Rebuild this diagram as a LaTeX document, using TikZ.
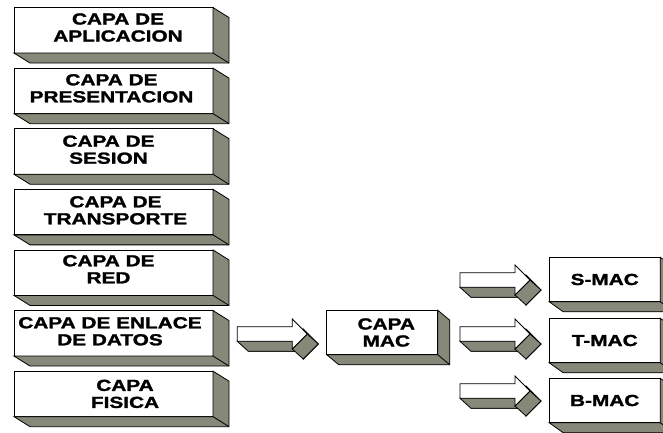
\documentclass[tikz,border=0pt]{standalone}
\usepackage{fontspec}
\newfontfamily\lblfont{Liberation Sans}[FakeStretch=1.3, FakeBold=1.6]
\definecolor{sidegray}{RGB}{134,136,122}
\newcommand\extrude[3]{%
  \filldraw[side] (#1.north east) -- ([shift={(#2,#3)}]#1.north east)
     -- ([shift={(#2,#3)}]#1.south east) -- ([shift={(#2,#3)}]#1.south west)
     -- (#1.south west) -- (#1.south east) -- cycle;
  \draw[edge] (#1.south east) -- ([shift={(#2,#3)}]#1.south east);}
\begin{document}
\begin{tikzpicture}[x=1pt,y=-1pt,
  edge/.style={draw=black, line width=0.8pt, line join=miter},
  face/.style={edge, fill=white},
  side/.style={edge, fill=sidegray},
  layer/.style={face, minimum width=199pt, minimum height=45.5pt, inner sep=0pt, outer sep=0pt},
  macbox/.style={face, minimum width=111pt, minimum height=44.5pt, inner sep=0pt, outer sep=0pt},
  lbl/.style={font=\lblfont\bfseries\fontsize{16}{17}\selectfont, align=center, inner sep=0pt},
  blockarrow/.pic={
    \filldraw[side] (11,2.7) -- (66,2.7) -- (66,-5) -- (81,10) -- (66,25) -- (66,17.3) -- (11,17.3) -- cycle;
    \filldraw[side] (0,7.3) -- (55,7.3) -- (66,17.3) -- (11,17.3) -- cycle;
    \filldraw[side] (55,15) -- (70,0) -- (81,10) -- (66,25) -- cycle;
    \filldraw[face] (0,-7.3) -- (55,-7.3) -- (55,-15) -- (70,0) -- (55,15) -- (55,7.3) -- (0,7.3) -- cycle;
  }]
\useasboundingbox (0,0) rectangle (663,432);

% OSI layers
\node[layer] (b1) at (113.5,30.3) {};
\node[layer] (b2) at (113.5,90.9) {};
\node[layer] (b3) at (113.5,151.5) {};
\node[layer] (b4) at (113.5,212.1) {};
\node[layer] (b5) at (113.5,272.7) {};
\node[layer] (b6) at (113.5,333.3) {};
\node[layer] (b7) at (113.5,393.9) {};
\foreach \n in {b1,b2,b3,b4,b5,b6,b7} {\extrude{\n}{16}{10}}

\node[lbl] (t1) at ([shift={(4.5,-2.8)}]b1.center) {CAPA DE\\APLICACION};
\node[lbl] (t2) at ([shift={(-2,-2.6)}]b2.center) {CAPA DE\\PRESENTACION};
\node[lbl] (t3) at ([shift={(-5,-1.8)}]b3.center) {CAPA DE\\SESION};
\node[lbl] (t4) at ([shift={(2,-1.8)}]b4.center) {CAPA DE\\TRANSPORTE};
\node[lbl] (t5) at ([shift={(-5,-3.5)}]b5.center) {CAPA DE\\RED};
\node[lbl] (t6) at ([shift={(-3.5,-2)}]b6.center) {CAPA DE ENLACE\\DE DATOS};
\node[lbl] (t7) at ([shift={(11.5,0)}]b7.center) {CAPA\\FISICA};

% MAC
\node[macbox] (mac) at (382.3,332.5) {};
\extrude{mac}{12}{10}
\node[lbl] (tmac0) at ([shift={(4,0)}]mac.center) {CAPA\\MAC};

\node[macbox] (smac) at (604.7,279.5) {};
\node[macbox] (tmac) at (604.7,340.5) {};
\node[macbox] (bmac) at (604.7,400.5) {};
\foreach \n in {smac,tmac,bmac} {\extrude{\n}{14}{10}}
\node[lbl] (ts) at (smac.center) {S-MAC};
\node[lbl] (tt) at (tmac.center) {T-MAC};
\node[lbl] (tb) at (bmac.center) {B-MAC};

% block arrows
\coordinate (aA) at (237.3,334);
\coordinate (aS) at (460,280);
\coordinate (aT) at (460,334);
\coordinate (aB) at (460,391);
\pic at (aA) {blockarrow};
\pic at (aS) {blockarrow};
\pic at (aT) {blockarrow};
\pic at (aB) {blockarrow};
\end{tikzpicture}
\end{document}
